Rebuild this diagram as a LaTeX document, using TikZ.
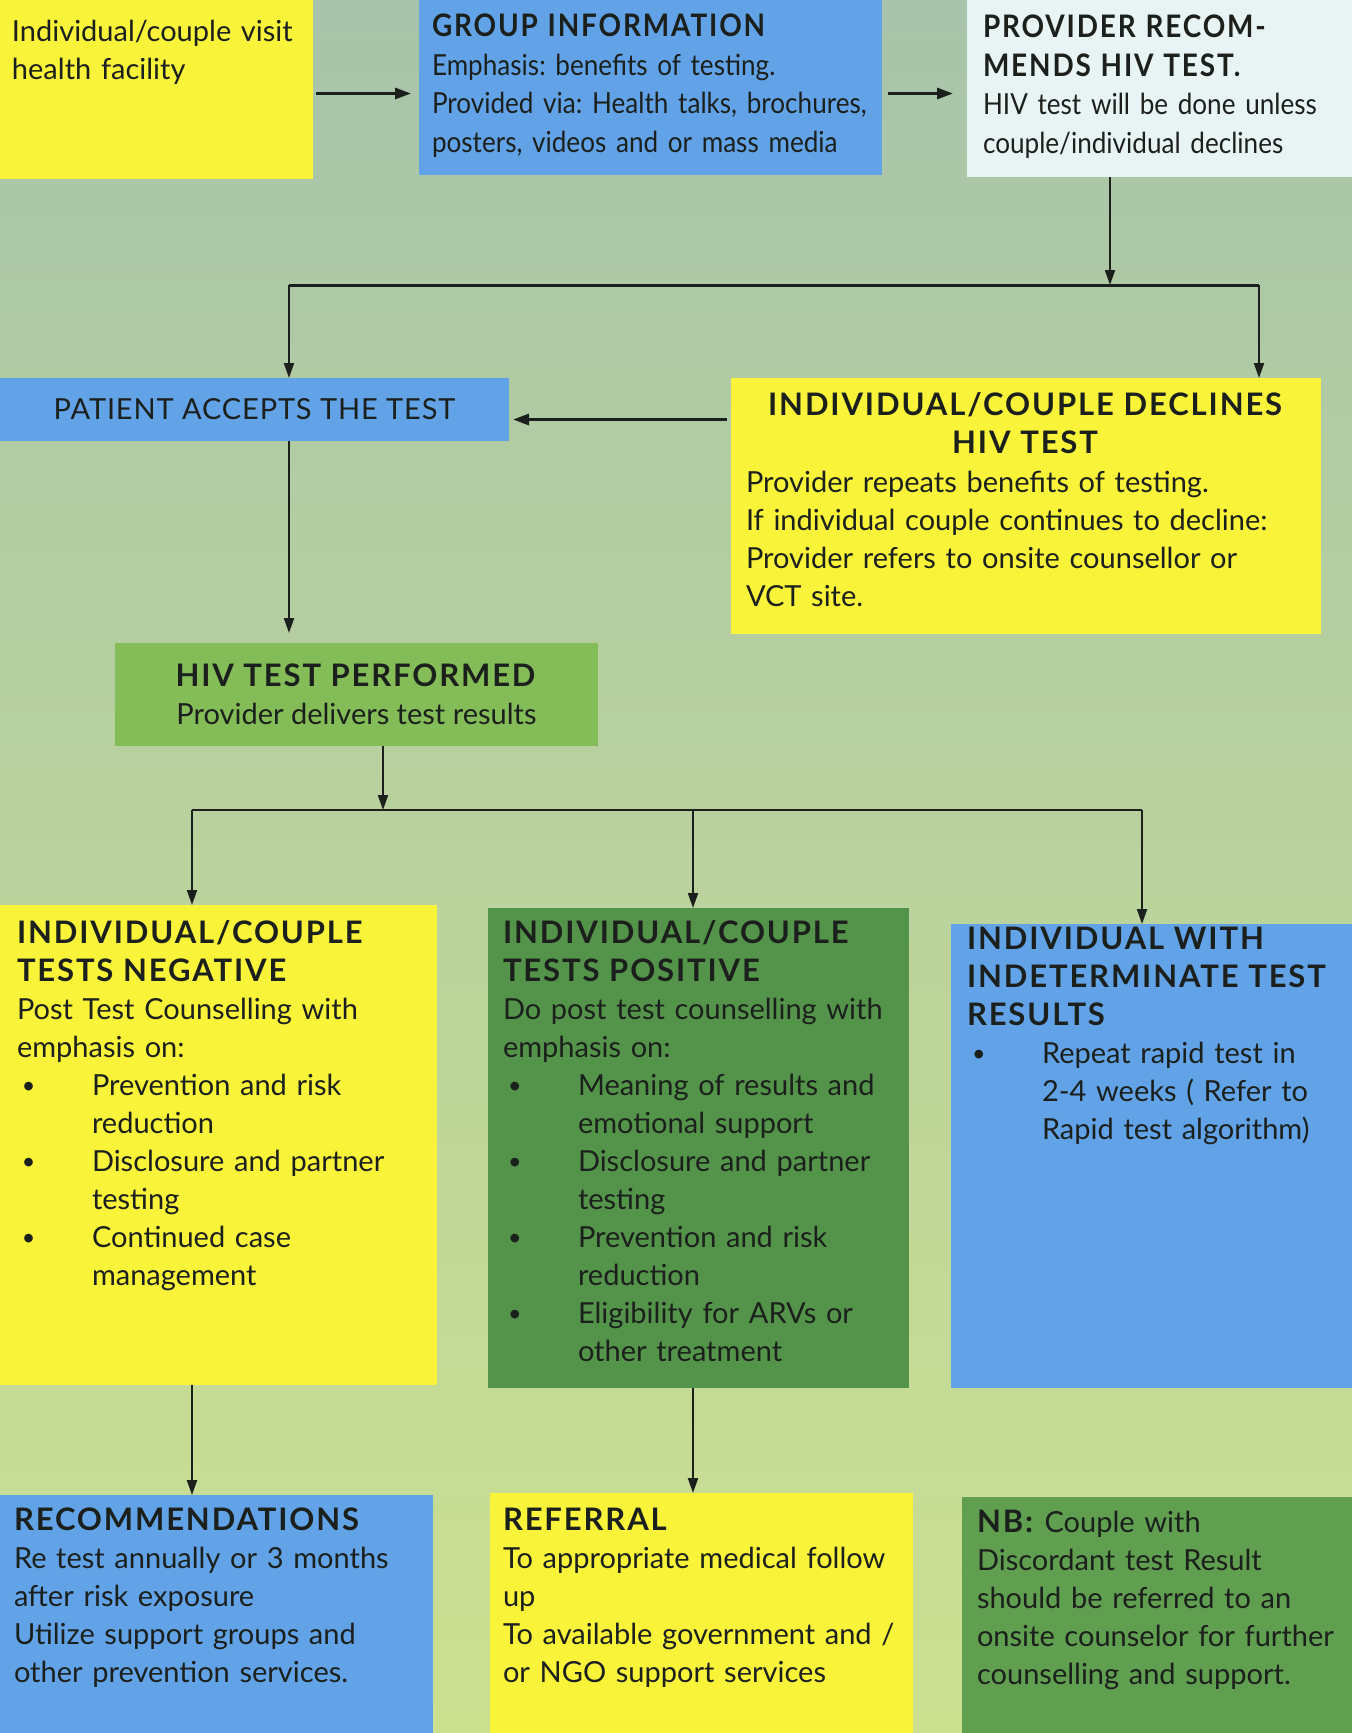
\documentclass[tikz,border=0pt]{standalone}
\usepackage{fontspec}
\setmainfont{Lato}[BoldFeatures={Scale=1.07, LetterSpace=6}]
\usetikzlibrary{arrows.meta}
\frenchspacing

\definecolor{bgtop}{RGB}{168,196,170}
\definecolor{bgmid}{RGB}{186,212,150}
\definecolor{bgbot}{RGB}{204,224,144}
\definecolor{boxyellow}{RGB}{249,243,58}
\definecolor{boxblue}{RGB}{98,163,232}
\definecolor{boxpale}{RGB}{232,243,243}
\definecolor{boxgreen}{RGB}{132,188,88}
\definecolor{boxdark}{RGB}{84,148,74}
\definecolor{boxnb}{RGB}{96,158,80}
\definecolor{ink}{RGB}{28,32,28}

\newcommand{\bulitem}{\hspace*{5pt}\makebox[70pt][l]{\raisebox{2pt}{\scalebox{0.8}{\textbullet}}}}
\newcommand{\bulgap}{\hspace*{75pt}}

\begin{document}
\begin{tikzpicture}
        [x=1pt, y=-1pt,
         every node/.style={inner sep=0, outer sep=0, text=ink, font=\fontsize{29}{38}\selectfont},
         card/.style={anchor=north west},
         cardtext/.style={anchor=north west, align=left, execute at begin node=\strut},
         narrow/.style={font=\fontsize{29}{38.5}\selectfont\addfontfeatures{FakeStretch=0.9}},
         wire/.style={draw=ink, line width=2pt},
         wirethick/.style={draw=ink, line width=3pt},
         arr/.style={wire, -{Triangle[length=15pt, width=10pt]}},
         arrthick/.style={wirethick, -{Triangle[length=16pt, width=11pt]}}]

        \useasboundingbox (0,0) rectangle (1352,1733);
        \shade[top color=bgtop, middle color=bgmid, bottom color=bgbot] (0,0) rectangle (1352,1733);

        \node[card, fill=boxyellow, minimum width=313pt, minimum height=179pt] (visit) at (0,0) {};
        \node[card, fill=boxblue, minimum width=463pt, minimum height=175pt] (group) at (419,0) {};
        \node[card, fill=boxpale, minimum width=385pt, minimum height=177pt] (provider) at (967,0) {};
        \node[card, fill=boxblue, minimum width=509pt, minimum height=63pt] (accept) at (0,378)
          {\addfontfeatures{LetterSpace=3}PATIENT ACCEPTS THE TEST};
        \node[card, fill=boxyellow, minimum width=590pt, minimum height=256pt] (declines) at (731,378) {};
        \node[card, fill=boxgreen, minimum width=483pt, minimum height=103pt, align=center] (performed) at (115,643)
          {\textbf{HIV TEST PERFORMED}\\Provider delivers test results};
        \node[card, fill=boxyellow, minimum width=437pt, minimum height=480pt] (negative) at (0,905) {};
        \node[card, fill=boxdark, minimum width=421pt, minimum height=480pt] (positive) at (488,908) {};
        \node[card, fill=boxblue, minimum width=401pt, minimum height=464pt] (indet) at (951,924) {};
        \node[card, fill=boxblue, minimum width=433pt, minimum height=238pt] (recommend) at (0,1495) {};
        \node[card, fill=boxyellow, minimum width=423pt, minimum height=240pt] (referral) at (490,1493) {};
        \node[card, fill=boxnb, minimum width=390pt, minimum height=236pt] (nb) at (962,1497) {};

        \node[cardtext, text width=295pt] (visit-text) at (12,15)
          {Individual/couple visit\\health facility};
        \node[cardtext, narrow, text width=445pt] (group-text) at (432,10)
          {\textbf{GROUP INFORMATION}\\Emphasis: benefits of testing.\\Provided via: Health talks, brochures,\\posters, videos and or mass media};
        \node[cardtext, narrow, text width=365pt] (provider-text) at (983,11)
          {\textbf{PROVIDER RECOM-}\\\textbf{MENDS HIV TEST.}\\HIV test will be done unless\\couple/individual declines};
        \node[cardtext, anchor=north, align=center, text width=580pt] (declines-title) at (1026,389)
          {\textbf{INDIVIDUAL/COUPLE DECLINES}\\\textbf{HIV TEST}};
        \node[cardtext, text width=570pt] (declines-text) at (746,466)
          {Provider repeats benefits of testing.\\If individual couple continues to decline:\\Provider refers to onsite counsellor or\\VCT site.};
        \node[cardtext, text width=418pt] (negative-text) at (17,917)
          {\textbf{INDIVIDUAL/COUPLE}\\\textbf{TESTS NEGATIVE}\\Post Test Counselling with\\emphasis on:\\
           \bulitem Prevention and risk\\\bulgap reduction\\
           \bulitem Disclosure and partner\\\bulgap testing\\
           \bulitem Continued case\\\bulgap management};
        \node[cardtext, text width=404pt] (positive-text) at (503,917)
          {\textbf{INDIVIDUAL/COUPLE}\\\textbf{TESTS POSITIVE}\\Do post test counselling with\\emphasis on:\\
           \bulitem Meaning of results and\\\bulgap emotional support\\
           \bulitem Disclosure and partner\\\bulgap testing\\
           \bulitem Prevention and risk\\\bulgap reduction\\
           \bulitem Eligibility for ARVs or\\\bulgap other treatment};
        \node[cardtext, text width=385pt] (indet-text) at (967,923)
          {\textbf{INDIVIDUAL WITH}\\\textbf{INDETERMINATE TEST}\\\textbf{RESULTS}\\
           \bulitem Repeat rapid test in\\\bulgap 2-4 weeks ( Refer to\\\bulgap Rapid test algorithm)};
        \node[cardtext, text width=418pt] (recommend-text) at (14,1504)
          {\textbf{RECOMMENDATIONS}\\Re test annually or 3 months\\after risk exposure\\Utilize support groups and\\other prevention services.};
        \node[cardtext, text width=410pt] (referral-text) at (503,1504)
          {\textbf{REFERRAL}\\To appropriate medical follow\\up\\To available government and /\\or NGO support services};
        \node[cardtext, text width=375pt] (nb-text) at (977,1506)
          {\textbf{NB:} Couple with\\Discordant test Result\\should be referred to an\\onsite counselor for further\\counselling and support.};

        \coordinate (split1) at (1110,285);
        \coordinate (splitL) at (289,285);
        \coordinate (splitR) at (1259,285);
        \coordinate (split2) at (383,810);
        \coordinate (split2L) at (192,810);
        \coordinate (split2M) at (693,810);
        \coordinate (split2R) at (1142,810);

        \draw[arrthick, shorten <=3pt, shorten >=8pt] ([yshift=-4pt]visit.east) -- ([yshift=-4pt]visit.east -| group.west);
        \draw[arrthick, shorten <=6pt, shorten >=14pt] ([yshift=-6pt]group.east) -- ([yshift=-6pt]group.east -| provider.west);
        \draw[arr] (split1 |- provider.south) -- (split1);
        \draw[wirethick] (splitL) -- (splitR);
        \draw[arr] (splitL) -- (splitL |- accept.north);
        \draw[arr] (splitR) -- (splitR |- declines.north);
        \draw[arrthick, shorten <=4pt, shorten >=4pt] ([yshift=-10pt]accept.east -| declines.west) -- ([yshift=-10pt]accept.east);
        \draw[arr, shorten >=10pt] (splitL |- accept.south) -- (splitL |- performed.north);
        \draw[arr] (split2 |- performed.south) -- (split2);
        \draw[wire] (split2L) -- (split2R);
        \draw[arr] (split2L) -- (split2L |- negative.north);
        \draw[arr] (split2M) -- (split2M |- positive.north);
        \draw[arr] (split2R) -- (split2R |- indet.north);
        \draw[arr] (split2L |- negative.south) -- (split2L |- recommend.north);
        \draw[arr] (split2M |- positive.south) -- (split2M |- referral.north);
      \end{tikzpicture}
\end{document}
